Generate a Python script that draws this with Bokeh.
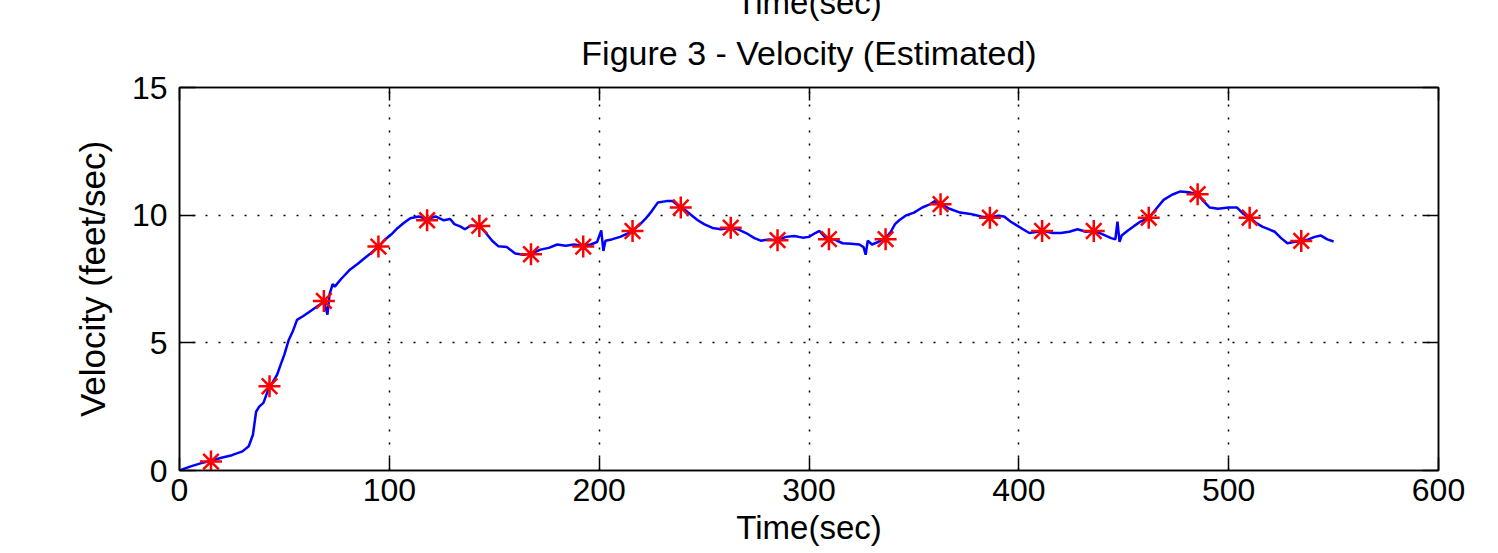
from bokeh.plotting import figure
from bokeh.models import Range1d, FixedTicker, LinearAxis, Title
from bokeh.embed import file_html
from bokeh.resources import INLINE

# ---- data ----
time_sec = [0, 5, 10, 15, 20, 25, 30, 33, 35, 36.5, 38, 40, 42, 44, 46.5, 48, 50, 52, 54, 56,
            59, 62.5, 66, 69, 70.5, 71.5, 73, 74, 77, 81, 85, 88, 91, 95, 98, 101, 104, 107,
            110, 114, 118, 122, 126, 129, 131, 134, 136, 139, 143, 146, 149, 152, 156, 160,
            164, 168, 172, 176, 180, 184, 188, 192, 196, 199, 201, 202, 203, 206, 210, 214,
            216, 219, 222, 225, 228, 232, 235, 238, 241, 244, 247, 250, 254, 258, 262, 266,
            270, 274, 277, 281, 285, 289, 293, 297, 300, 303, 305, 308, 312, 316, 320, 324,
            326, 327, 328, 330, 333, 336.5, 339, 341, 343, 346, 350, 354, 357, 360, 363, 367,
            372, 377, 382, 386, 390, 393, 396, 399, 402, 405, 409, 412, 416, 420, 424, 428,
            432, 436, 440, 444, 446, 447, 448, 449, 452, 455, 458, 462, 465, 469, 473, 477,
            481, 485, 488, 491, 495, 500, 504, 507, 510, 513, 516, 519, 522, 525, 528, 531,
            535, 538, 541, 544, 547, 550]
velocity = [0.0, 0.15, 0.28, 0.38, 0.5, 0.6, 0.75, 0.95, 1.4, 2.3, 2.5, 2.65, 3.1, 3.4, 3.75,
            4.1, 4.55, 5.1, 5.45, 5.9, 6.05, 6.25, 6.45, 6.6, 6.1, 6.9, 7.3, 7.2, 7.5, 7.85,
            8.1, 8.3, 8.5, 8.78, 9.05, 9.25, 9.5, 9.7, 9.88, 9.95, 9.85, 9.95, 9.8, 9.85, 9.65,
            9.55, 9.45, 9.6, 9.58, 9.3, 9.0, 8.78, 8.75, 8.5, 8.45, 8.5, 8.65, 8.72, 8.85, 8.8,
            8.85, 8.8, 8.85, 8.95, 9.4, 8.6, 9.0, 9.05, 9.15, 9.3, 9.4, 9.6, 9.85, 10.15, 10.5,
            10.55, 10.55, 10.35, 10.2, 10.0, 9.8, 9.65, 9.5, 9.45, 9.5, 9.45, 9.3, 9.1, 9.0,
            9.05, 9.02, 9.15, 9.18, 9.12, 9.15, 9.3, 9.38, 9.1, 9.05, 8.9, 8.88, 8.85, 8.75,
            8.45, 9.0, 8.85, 8.95, 9.1, 9.35, 9.65, 9.8, 9.98, 10.1, 10.3, 10.4, 10.55, 10.43,
            10.25, 10.1, 10.05, 9.95, 9.9, 9.98, 9.95, 9.75, 9.6, 9.45, 9.3, 9.35, 9.38, 9.3,
            9.3, 9.35, 9.45, 9.35, 9.38, 9.25, 9.1, 9.05, 9.75, 8.95, 9.2, 9.4, 9.58, 9.75, 9.9,
            10.2, 10.6, 10.8, 10.93, 10.9, 10.82, 10.55, 10.3, 10.25, 10.3, 10.3, 10.05, 9.9,
            9.7, 9.55, 9.45, 9.35, 9.1, 8.9, 8.95, 8.99, 9.05, 9.15, 9.2, 9.05, 8.97]

marker_time = [15, 42.9, 68.8, 94.8, 118, 142.9, 167.5, 192.4, 215.9, 238.9, 262.7, 285,
               309.5, 336.5, 362.7, 386.2, 411.1, 435.7, 461.9, 485.2, 510, 534.6]
marker_velocity = [0.35, 3.3, 6.64, 8.77, 9.8, 9.58, 8.47, 8.77, 9.38, 10.3, 9.51, 9.02,
                   9.06, 9.06, 10.43, 9.9, 9.38, 9.38, 9.9, 10.82, 9.9, 8.99]

x_ticks = [0, 100, 200, 300, 400, 500, 600]
y_ticks = [0, 5, 10, 15]
title_text = "Figure 3 - Velocity (Estimated)"
x_label = "Time(sec)"
y_label = "Velocity (feet/sec)"

FONT = "Liberation Sans"
HIDDEN_TOP = 15  # part of the canvas pushed above the window (cut-off text of the previous panel)

p = figure(title=None, frame_width=1259, frame_height=383,
           min_border_left=179, min_border_right=60, min_border_top=0, min_border_bottom=83,
           x_range=Range1d(0, 600), y_range=Range1d(0, 15),
           output_backend="svg", toolbar_location=None,
           background_fill_color="white", border_fill_color="white")
p.margin = (-HIDDEN_TOP, 0, 0, 0)

p.outline_line_color = "black"
p.outline_line_width = 1.5

# main axes
for ax, ticks, tick_in in ((p.xaxis[0], x_ticks, 13), (p.yaxis[0], y_ticks, 16)):
    ax.ticker = FixedTicker(ticks=ticks)
    ax.major_tick_in = tick_in
    ax.major_tick_out = 0
    ax.minor_tick_line_color = None
    ax.axis_line_color = "black"
    ax.axis_line_width = 1.5
    ax.major_tick_line_color = "black"
    ax.major_tick_line_width = 1.5
    ax.major_label_text_font = FONT
    ax.major_label_text_font_size = "32px"
    ax.major_label_text_color = "black"

p.xaxis.major_label_standoff = 8
p.yaxis.major_label_standoff = 12
p.yaxis.axis_label = y_label
p.yaxis.axis_label_text_font = FONT
p.yaxis.axis_label_text_font_size = "35px"
p.yaxis.axis_label_text_font_style = "normal"
p.yaxis.axis_label_text_color = "black"
p.yaxis.axis_label_standoff = 17

# mirrored tick marks (top and right), no labels
top_ax = LinearAxis(ticker=FixedTicker(ticks=x_ticks), major_tick_in=13, major_tick_out=0,
                    minor_tick_line_color=None, major_label_text_font_size="0px",
                    major_label_standoff=0,
                    major_tick_line_width=1.5, axis_line_width=1.5)
right_ax = LinearAxis(ticker=FixedTicker(ticks=y_ticks), major_tick_in=16, major_tick_out=0,
                      minor_tick_line_color=None, major_label_text_font_size="0px",
                      major_label_standoff=0,
                      major_tick_line_width=1.5, axis_line_width=1.5)
p.add_layout(top_ax, "above")
p.add_layout(right_ax, "right")

def make_title(text, standoff, size="33px"):
    return Title(text=text, align="center", vertical_align="bottom", standoff=standoff,
                 text_font=FONT, text_font_size=size, text_font_style="normal",
                 text_color="black")

p.add_layout(make_title(title_text, 31, "34px"), "above")
p.add_layout(make_title(x_label, -8), "above")
p.add_layout(make_title(x_label, 6), "below")

# dotted grid
p.xgrid.ticker = FixedTicker(ticks=x_ticks)
p.ygrid.ticker = FixedTicker(ticks=y_ticks)
p.grid.grid_line_color = "black"
p.grid.grid_line_width = 1.5
p.grid.grid_line_dash = "2 11"

# data
p.line(time_sec, velocity, line_color="#0000ff", line_width=2.5)
p.scatter(marker_time, marker_velocity, marker="asterisk", size=22,
          line_color="#ff0000", line_width=2.5)

open("out.html", "w").write(file_html(p, INLINE))
